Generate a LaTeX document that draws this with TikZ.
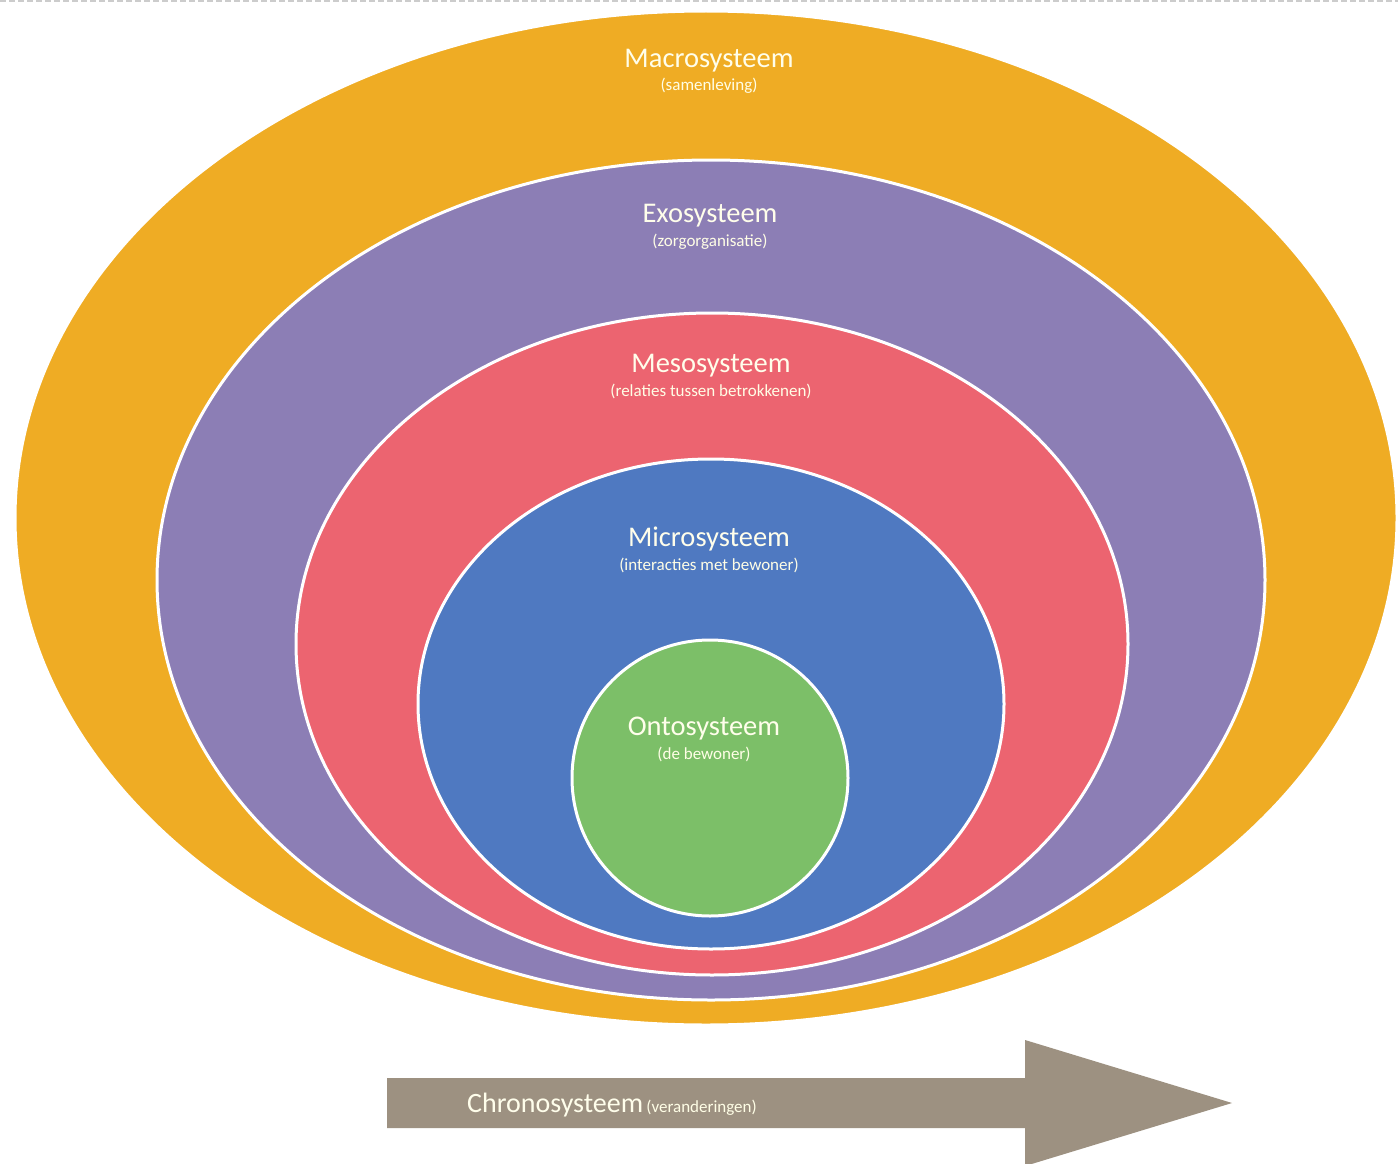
\documentclass[tikz,border=0pt]{standalone}
\usepackage{fontspec}
\setmainfont{Carlito}
\definecolor{macroc}{HTML}{EFAC24}
\definecolor{exoc}{HTML}{8C7EB5}
\definecolor{mesoc}{HTML}{EC6470}
\definecolor{microc}{HTML}{4F79C1}
\definecolor{ontoc}{HTML}{7CBF68}
\definecolor{chronoc}{HTML}{9D9181}
\begin{document}
\begin{tikzpicture}[x=1pt,y=-1pt,
  ring/.style={draw=white,line width=3pt},
  ttl/.style={text=white!92!yellow,font=\fontsize{28.5}{31}\selectfont,inner sep=0pt,anchor=base},
  sub/.style={text=white!90!yellow,font=\fontsize{17}{19}\selectfont,inner sep=0pt,anchor=base}]
\useasboundingbox[fill=white] (0,0) rectangle (1398,1164);
\draw[gray!40,line width=2pt,dash pattern=on 6pt off 3pt] (0,1) -- (1398,1);
% rings
\path[ring,fill=macroc] (706,518) ellipse [x radius=691,y radius=507];
\path[ring,fill=exoc] (711,580) ellipse [x radius=554,y radius=420];
\path[ring,fill=mesoc] (712,644) ellipse [x radius=416,y radius=331];
\path[ring,fill=microc] (711,704) ellipse [x radius=293,y radius=245];
\path[ring,fill=ontoc] (710,778) circle [radius=138];
% labels
\node[ttl] (macro) at (709,67) {Macrosysteem};
\node[sub] (macros) at (709,91) {(samenleving)};
\node[ttl] (exo) at (710,222) {Exosysteem};
\node[sub] (exos) at (710,246) {(zorgorganisatie)};
\node[ttl] (meso) at (711,372) {Mesosysteem};
\node[sub] (mesos) at (711,396) {(relaties tussen betrokkenen)};
\node[ttl] (micro) at (709,546) {Microsysteem};
\node[sub] (micros) at (709,570) {(interacties met bewoner)};
\node[ttl] (onto) at (704,735) {Ontosysteem};
\node[sub] (ontos) at (704,759) {(de bewoner)};
% arrow
\path[fill=chronoc] (387,1078) -- (1025,1078) -- (1025,1040) -- (1232,1103) -- (1025,1166) -- (1025,1128) -- (387,1128) -- cycle;
\node[ttl,anchor=base west,font=\fontsize{28}{30}\selectfont] (chrono) at (467,1112) {Chronosysteem};
\node[sub,anchor=base west] (chronos) at (chrono.base east) {\,(veranderingen)};
\end{tikzpicture}
\end{document}
